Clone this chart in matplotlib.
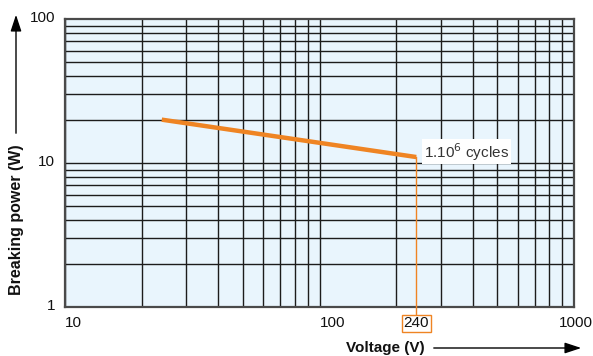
import numpy as np
import matplotlib.pyplot as plt
import matplotlib.transforms as mtransforms

plt.rcParams['font.family'] = ['Liberation Sans', 'DejaVu Sans']

# data
voltage = [24, 240]          # V
power = [20, 11]             # W
x_ticks = [10, 100, 1000]
y_ticks = [1, 10, 100]
marked_voltage = 240
curve_label = r'1.10$^{6}$ cycles'

orange = '#ef8423'
grid_col = '#1c1c1c'

fig = plt.figure(figsize=(5.93, 3.56), dpi=100)
ax = fig.add_axes([65/593, 1-307/356, 509/593, 288/356])
ax.set_xscale('log')
ax.set_yscale('log')
ax.set_xlim(10, 1000)
ax.set_ylim(1, 100)
ax.set_facecolor('#e9f5fd')

# grid at every 1..9 of each decade
for d in [10, 100]:
    for m in range(1, 10):
        ax.axvline(d*m, color=grid_col, lw=1.0, zorder=1)
for d in [1, 10]:
    for m in range(1, 10):
        ax.axhline(d*m, color=grid_col, lw=1.0, zorder=1)

for s in ax.spines.values():
    s.set_color('#4a4a4a')
    s.set_linewidth(1.6)
ax.tick_params(which='both', length=0, labelbottom=False, labelleft=False)

# curve
ax.plot(voltage, power, color=orange, lw=3.2, solid_capstyle='butt', zorder=3)

# drop line to the 240 V mark
trans = mtransforms.blended_transform_factory(ax.transData, ax.transAxes)
ax.plot([marked_voltage, marked_voltage], [power[-1], 1], color=orange, lw=1.0, zorder=3)
ax.plot([marked_voltage, marked_voltage], [0, -0.025], color=orange, lw=1.0,
        transform=trans, clip_on=False, zorder=3)
ax.text(marked_voltage, -0.057, str(marked_voltage), transform=trans, ha='center', va='center',
        fontsize=11, color='#111111',
        bbox=dict(boxstyle='square,pad=0.1', fc='white', ec=orange, lw=1.0))

ax.text(voltage[-1]*1.075, power[-1]*1.09, curve_label, ha='left', va='center',
        fontsize=11, color='#333333', zorder=4,
        bbox=dict(boxstyle='square,pad=0.12', fc='white', ec='none'))

# tick labels
for v in x_ticks:
    ha = 'left' if v < 1000 else 'center'
    xx = v if v < 1000 else v*1.02
    ax.text(xx, -0.055, str(v), transform=trans, ha=ha, va='center', fontsize=11, color='#111111')
ytrans = mtransforms.blended_transform_factory(ax.transAxes, ax.transData)
for v in y_ticks:
    ax.text(-0.019, v*1.01, str(v), transform=ytrans, ha='right', va='center', fontsize=11,
            color='#111111')

# axis titles with arrows
fig.text(385/593, 1-348/356, 'Voltage (V)', ha='center', va='center', fontsize=11,
         fontweight='bold', color='#111111')
ax.annotate('', xy=(584, 356-348), xytext=(431, 356-348), xycoords='figure pixels',
            arrowprops=dict(arrowstyle='-|>,head_length=1.0,head_width=0.33', color='black', lw=1.0))
fig.text(17/593, 1-220/356, 'Breaking power (W)', ha='center', va='center', fontsize=11.5,
         fontweight='bold', rotation=90, color='#111111')
ax.annotate('', xy=(16, 356-12), xytext=(16, 356-136), xycoords='figure pixels',
            arrowprops=dict(arrowstyle='-|>,head_length=1.0,head_width=0.33', color='black', lw=1.0))

fig.savefig('out.png', dpi=100)
